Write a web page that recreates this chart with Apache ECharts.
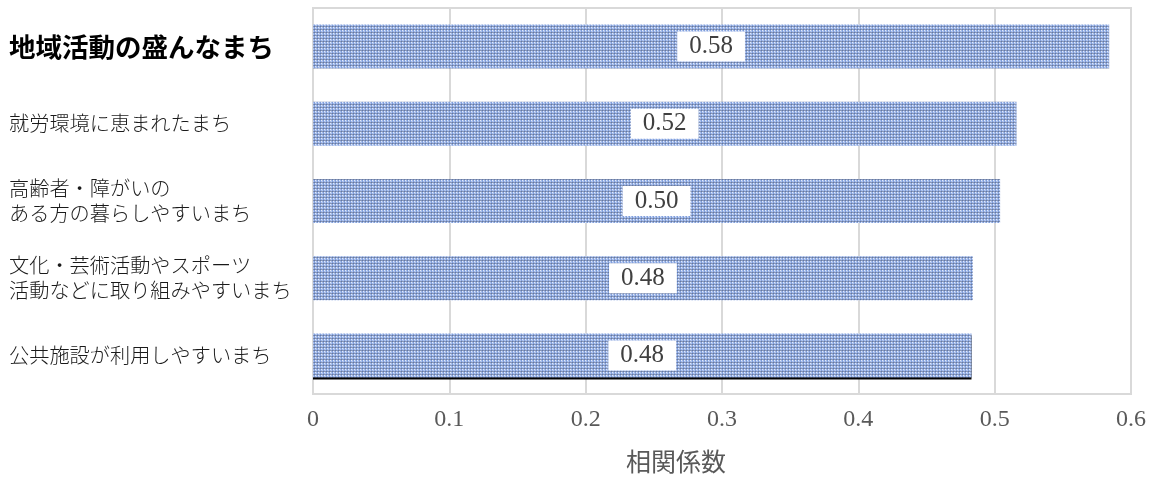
<!DOCTYPE html>
<html>
<head>
<meta charset="utf-8">
<script src="https://cdn.jsdelivr.net/npm/echarts@6/dist/echarts.min.js"></script>
<style>
  html, body { margin: 0; padding: 0; background: #fff; }
  #chart { width: 1149px; height: 479px; }
</style>
</head>
<body>
<div id="chart"></div>
<script>
// Categories, top to bottom
const categories = [
  '地域活動の盛んなまち',
  '就労環境に恵まれたまち',
  '高齢者・障がいの\nある方の暮らしやすいまち',
  '文化・芸術活動やスポーツ\n活動などに取り組みやすいまち',
  '公共施設が利用しやすいまち'
];
// Correlation coefficients
const values = [0.584, 0.516, 0.504, 0.484, 0.483];
// Value axis ticks
const tickValues = [0, 0.1, 0.2, 0.3, 0.4, 0.5, 0.6];
const axisTitle = '相関係数';

// Dotted blue fill for the bars
function makePattern() {
  const c = document.createElement('canvas');
  c.width = 3; c.height = 3;
  const ctx = c.getContext('2d');
  const px = [
    ['#e2eaf9', '#a6bcea', '#809fdc'],
    ['#a6bcea', '#b4c7ee', '#809fdc'],
    ['#8595ba', '#8595ba', '#66799f']
  ];
  for (let y = 0; y < 3; y++) {
    for (let x = 0; x < 3; x++) {
      ctx.fillStyle = px[y][x];
      ctx.fillRect(x, y, 1, 1);
    }
  }
  return c;
}
const pattern = { image: makePattern(), repeat: 'repeat' };

const chart = echarts.init(document.getElementById('chart'), null, { renderer: 'canvas' });
const numFont = '"Liberation Serif", "DejaVu Serif", serif';
const jpFont = '"Noto Sans CJK JP", sans-serif';

chart.setOption({
  animation: false,
  grid: {
    left: 313, right: 18, top: 8, bottom: 83,
    show: true, borderColor: '#d9d9d9', borderWidth: 2
  },
  xAxis: {
    type: 'value',
    min: tickValues[0],
    max: tickValues[tickValues.length - 1],
    interval: 0.1,
    axisLine: { show: false },
    axisTick: { show: false },
    splitLine: { lineStyle: { color: '#d9d9d9', width: 2 } },
    axisLabel: {
      fontFamily: numFont, fontSize: 24, color: '#595959', margin: 14,
      formatter: v => (Math.round(v * 10) / 10).toString()
    },
    name: axisTitle,
    nameLocation: 'middle',
    nameGap: 55,
    nameTextStyle: { fontFamily: jpFont, fontSize: 25, color: '#595959', padding: [0, 92, 0, 0] }
  },
  yAxis: {
    type: 'category',
    inverse: true,
    data: categories,
    axisLine: { show: false },
    axisTick: { show: false },
    axisLabel: {
      align: 'left',
      margin: 304,
      formatter: (v, i) => {
        const tag = i === 0 ? 'b' : 'n';
        return v.split('\n').map(s => '{' + tag + '|' + s + '}').join('\n');
      },
      rich: {
        b: { fontFamily: jpFont, fontSize: 26.5, fontWeight: 'bold', color: '#000', lineHeight: 30 },
        n: { fontFamily: jpFont, fontSize: 20.2, fontWeight: 300, color: '#1a1a1a', lineHeight: 25 }
      }
    }
  },
  series: [{
    type: 'bar',
    barWidth: 44,
    data: values.map((v, i) => i === values.length - 1
      ? { value: v, itemStyle: { shadowColor: '#000', shadowOffsetY: 2, shadowBlur: 0 } }
      : v),
    itemStyle: { color: pattern },
    label: {
      show: true,
      position: 'inside',
      formatter: p => p.value.toFixed(2),
      fontFamily: numFont,
      fontSize: 25,
      color: '#404040',
      backgroundColor: '#fff',
      padding: [3, 12, 2, 12]
    }
  }]
});
</script>
</body>
</html>
